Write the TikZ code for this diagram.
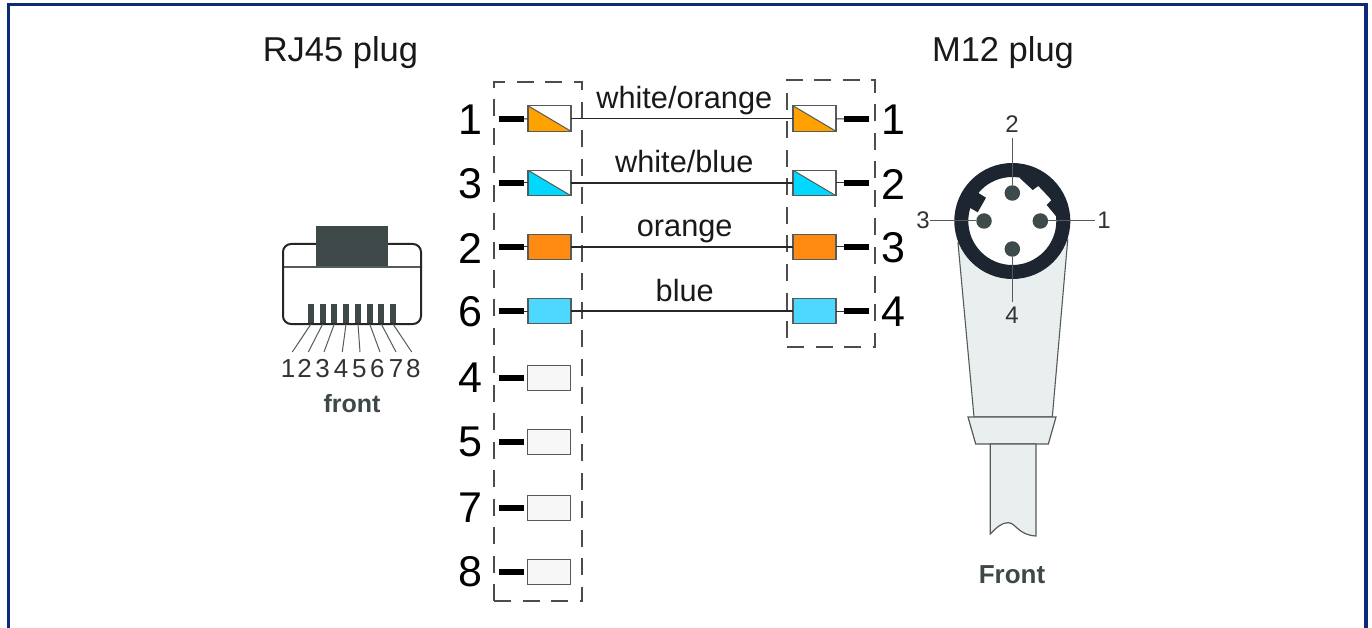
\documentclass[tikz,border=0pt]{standalone}
\usepackage{fontspec}
\setmainfont{Liberation Sans}
\definecolor{frameblue}{HTML}{0B2A78}
\definecolor{ringdark}{HTML}{1C2530}
\definecolor{pindark}{HTML}{3F4A4A}
\definecolor{tabdark}{HTML}{3F4848}
\definecolor{bodyfill}{HTML}{E9EFEF}
\definecolor{edgegrey}{HTML}{555B5B}
\definecolor{wo}{HTML}{FFA200}
\definecolor{wb}{HTML}{00D8FF}
\definecolor{so}{HTML}{FF8A12}
\definecolor{sb}{HTML}{4DD8FF}
\newcommand{\fsz}[1]{\fontsize{#1}{#1}\selectfont}
\tikzset{
  x=1pt,y=-1pt,
  pinbox/.style={draw=edgegrey,line width=1.2pt,minimum width=43pt,minimum height=25.5pt,inner sep=0pt,outer sep=0pt},
  halfbox/.style={pinbox,fill=white,path picture={
     \fill[#1] (path picture bounding box.north west) -- (path picture bounding box.south west) -- (path picture bounding box.south east) -- cycle;
     \draw[edgegrey,line width=1pt] (path picture bounding box.north west) -- (path picture bounding box.south east);}},
  fullbox/.style={pinbox,fill=#1},
  barnode/.style={fill=black,minimum width=25pt,minimum height=5.5pt,inner sep=0pt,outer sep=0pt},
  bignum/.style={font=\fsz{43},text=black,inner sep=0pt},
  wirelabel/.style={font=\fsz{30.7},text=black!90,inner sep=0pt,anchor=base},
  title/.style={font=\fsz{34.5},text=black!90,inner sep=0pt,anchor=base},
  smallnum/.style={font=\fsz{24},text=black!80,inner sep=0pt},
  rjnum/.style={font=\fsz{26},text=black!80,inner sep=0pt},
  boldlabel/.style={font=\fsz{25}\bfseries,text=tabdark,inner sep=0pt},
  wire/.style={line width=1.6pt,black!85},
  stub/.style={line width=1pt,black!80},
  dashbox/.style={draw=black!70,line width=1.2pt,dash pattern=on 17pt off 11.5pt},
  pinline/.style={line width=1pt,edgegrey},
}
\begin{document}
\begin{tikzpicture}
\useasboundingbox (0,0) rectangle (1372,628);
% frame
\fill[white] (0,0) rectangle (1372,628);
\draw[frameblue,line width=3.4pt] (8.5,628) -- (8.5,4.8) -- (1366,4.8) -- (1366,628);
% titles
\node[title] (t1) at (340.5,61.7) {RJ45 plug};
\node[title] (t2) at (1003,61.7) {M12 plug};
% dashed boxes
\node[dashbox,minimum width=88pt,minimum height=519pt,inner sep=0pt] (dl) at (538,341.5) {};
\node[dashbox,minimum width=88pt,minimum height=267pt,inner sep=0pt] (dr) at (831,213.5) {};
% left rows
\foreach \nm/\lab/\yy in {a/1/120,b/3/184,c/2/248,d/6/312,e/4/378,f/5/442,g/7/508,h/8/572}{
  \node[bignum] (n\nm) at (470,\yy) {\lab};
}
\foreach \nm/\yy in {a/119,b/183,c/247,d/311,e/378,f/442,g/508,h/572}{
  \node[barnode] (b\nm) at (511.5,\yy) {};
}
\node[halfbox=wo] (La) at (549.5,118.5) {};
\node[halfbox=wb] (Lb) at (549.5,183) {};
\node[fullbox=so] (Lc) at (549.5,247) {};
\node[fullbox=sb] (Ld) at (549.5,311) {};
\node[fullbox=white!97!black] (Le) at (549,378) {};
\node[fullbox=white!97!black] (Lf) at (549,442) {};
\node[fullbox=white!97!black] (Lg) at (549,508) {};
\node[fullbox=white!97!black] (Lh) at (549,572) {};
\foreach \nm in {a,b,c,d}{\draw[stub] (b\nm) -- (L\nm);}
% right rows
\foreach \nm/\lab/\yy in {a/1/120,b/2/184,c/3/248,d/4/312}{
  \node[bignum] (m\nm) at (893,\yy) {\lab};
}
\foreach \nm/\yy in {a/119,b/183,c/247,d/311}{
  \node[barnode] (c\nm) at (856.5,\yy) {};
}
\node[halfbox=wo] (Ra) at (814.5,118.5) {};
\node[halfbox=wb] (Rb) at (814.5,183) {};
\node[fullbox=so] (Rc) at (814.5,247) {};
\node[fullbox=sb] (Rd) at (814.5,311) {};
\foreach \nm in {a,b,c,d}{
  \draw[stub] (R\nm) -- (c\nm);
  \draw[wire] (L\nm) -- (R\nm);
}
% wire labels
\node[wirelabel] (w1) at (684.3,108.3) {white/orange};
\node[wirelabel] (w2) at (684.3,172.7) {white/blue};
\node[wirelabel] (w3) at (684.7,236.7) {orange};
\node[wirelabel] (w4) at (684.7,301) {blue};
% RJ45 front view
\fill[tabdark] (316,226) rectangle (388,268);
\draw[edgegrey,line width=1.2pt] (284,267) -- (420,267);
\draw[black!85,line width=2pt,rounded corners=8pt] (316,244) -- (283,244) -- (283,324) -- (421,324) -- (421,244) -- (388,244);
\foreach \px in {311,322.7,334.3,346,358,369.7,381.3,393}{
  \fill[tabdark] (\px-3,304) rectangle (\px+3,323);
}
\foreach \xa/\xb/\dg/\xc in {311/292.3/1/288,322.7/308.3/2/304.5,334.3/324/3/322.7,346/342.3/4/341,358/360/5/359.3,369.7/380/6/377.3,381.3/396/7/396,393/411.7/8/413.3}{
  \coordinate (pa\dg) at (\xa,324);
  \coordinate (pb\dg) at (\xb,352);
  \draw[pinline] (pa\dg) -- (pb\dg);
  \node[rjnum] (pn\dg) at (\xc,368.5) {\dg};
}
\node[boldlabel] (fr) at (352,404) {front};
% M12 body
\filldraw[fill=bodyfill,draw=edgegrey,line width=1.1pt] (958,243) -- (974,417) -- (1052.3,417) -- (1067.7,240) -- cycle;
\filldraw[fill=bodyfill,draw=edgegrey,line width=1.2pt] (968,417) -- (1056,417) -- (1048.3,444) -- (975.7,444) -- cycle;
\filldraw[fill=bodyfill,draw=edgegrey,line width=1.2pt] (990.3,444) -- (990.3,534) .. controls (997,527) and (1002,522.5) .. (1008.3,522.7) .. controls (1016,523) and (1018,535) .. (1036,536) -- (1036,444) -- cycle;
% M12 ring
\fill[white] (1012.3,221) circle[radius=50];
\fill[ringdark,even odd rule] (1012.3,221) circle[radius=58] (1012.3,221) circle[radius=44];
\fill[ringdark] (1020,178.3) -- (1032.7,190) -- (1038.3,186) -- (1051.7,200) -- (1046.7,205) -- (1056.7,217) -- (1058,205) -- (1045,182) -- (1025,174) -- cycle;
\fill[ringdark] (977.3,192.3) -- (986,197.7) -- (977.7,212.3) -- (969,207.3) -- (966,215) -- (968,198) -- (980,184) -- cycle;
% M12 pins
\node[circle,fill=pindark,minimum size=15.5pt,inner sep=0pt,outer sep=0pt] (p2) at (1012.3,193) {};
\node[circle,fill=pindark,minimum size=15.5pt,inner sep=0pt,outer sep=0pt] (p3) at (984,221) {};
\node[circle,fill=pindark,minimum size=15.5pt,inner sep=0pt,outer sep=0pt] (p1) at (1040.3,221) {};
\node[circle,fill=pindark,minimum size=15.5pt,inner sep=0pt,outer sep=0pt] (p4) at (1012.3,249) {};
\node[smallnum] (l2) at (1012,124) {2};
\node[smallnum] (l3) at (923,220) {3};
\node[smallnum] (l1) at (1104,220) {1};
\node[smallnum] (l4) at (1012,315) {4};
\coordinate (e2) at (1012.3,138);
\coordinate (e3) at (930,221);
\coordinate (e1) at (1095,221);
\coordinate (e4) at (1012.3,302);
\draw[pinline] (e2) -- (p2);
\draw[pinline] (e3) -- (p3);
\draw[pinline] (e1) -- (p1);
\draw[pinline] (e4) -- (p4);
\node[boldlabel,font=\fsz{26}\bfseries] (fr2) at (1012,575) {Front};
\end{tikzpicture}
\end{document}
